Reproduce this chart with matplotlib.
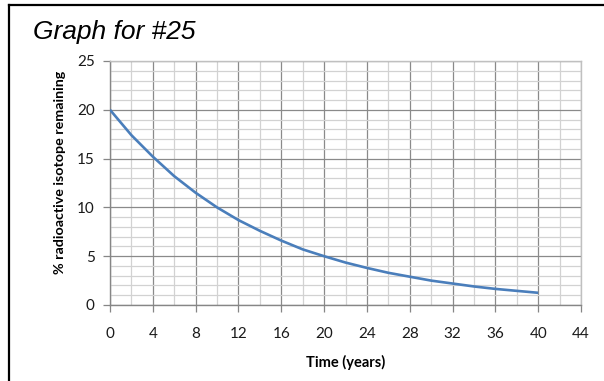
import matplotlib
matplotlib.use("Agg")
import matplotlib.pyplot as plt
from matplotlib.lines import Line2D
from matplotlib.ticker import MultipleLocator

# Data
years = [0, 2, 4, 6, 8, 10, 12, 14, 16, 18, 20, 22, 24, 26, 28, 30, 32, 34, 36, 38, 40]
percent_remaining = [20.0, 17.4, 15.2, 13.2, 11.5, 10.0, 8.7, 7.6, 6.6, 5.7, 5.0,
                     4.35, 3.8, 3.3, 2.9, 2.5, 2.2, 1.9, 1.65, 1.45, 1.25]
x_ticks = [0, 4, 8, 12, 16, 20, 24, 28, 32, 36, 40, 44]
y_ticks = [0, 5, 10, 15, 20, 25]

title_text = "Graph for #25"
x_label = "Time (years)"
y_label = "% radioactive isotope remaining"

fig = plt.figure(figsize=(6.04, 3.81), dpi=100)
ax = fig.add_axes([110/604, 1 - 305/381, (581-110)/604, (305-61)/381])

ax.plot(years, percent_remaining, color="#4A7EBB", lw=1.9,
        solid_joinstyle="round", solid_capstyle="butt", zorder=5)

ax.set_xlim(0, 44)
ax.set_ylim(0, 25)
ax.set_xticks(x_ticks)
ax.set_yticks(y_ticks)
ax.xaxis.set_minor_locator(MultipleLocator(2))
ax.yaxis.set_minor_locator(MultipleLocator(1))
ax.grid(which="minor", color="#d2d2d2", lw=0.9, zorder=0)
ax.grid(which="major", color="#8a8a8a", lw=0.9, zorder=1)
ax.set_axisbelow(True)

for s in ["top", "right"]:
    ax.spines[s].set_color("#c0c0c0")
    ax.spines[s].set_linewidth(1.0)
for s in ["left", "bottom"]:
    ax.spines[s].set_color("#868686")
    ax.spines[s].set_linewidth(1.0)

ax.tick_params(which="major", length=5, width=0.9, color="#868686",
               labelsize=11, pad=11, labelcolor="#1a1a1a")
ax.tick_params(axis="y", which="major", pad=6)
ax.tick_params(which="minor", length=0)
for lab in ax.get_xticklabels() + ax.get_yticklabels():
    lab.set_family("Lato")

fig.text(345.5/604, 1 - 362/381, x_label, ha="center", va="center",
         fontsize=10.5, fontweight="bold", family="Lato")
fig.text(60/604, 1 - 172/381, y_label, ha="center", va="center", rotation=90,
         fontsize=10.3, fontweight="bold", family="Lato")

fig.text(33/604, 1 - 32/381, title_text, ha="left", va="center",
         fontsize=19, style="italic", family="Liberation Sans")

# Figure border (left and top lines)
fig.add_artist(Line2D([9/604, 9/604], [0, 1 - 5/381], transform=fig.transFigure,
                      color="black", lw=1.6))
fig.add_artist(Line2D([9/604, 1], [1 - 5/381, 1 - 5/381], transform=fig.transFigure,
                      color="black", lw=1.6))

fig.savefig("out.png", dpi=100)
